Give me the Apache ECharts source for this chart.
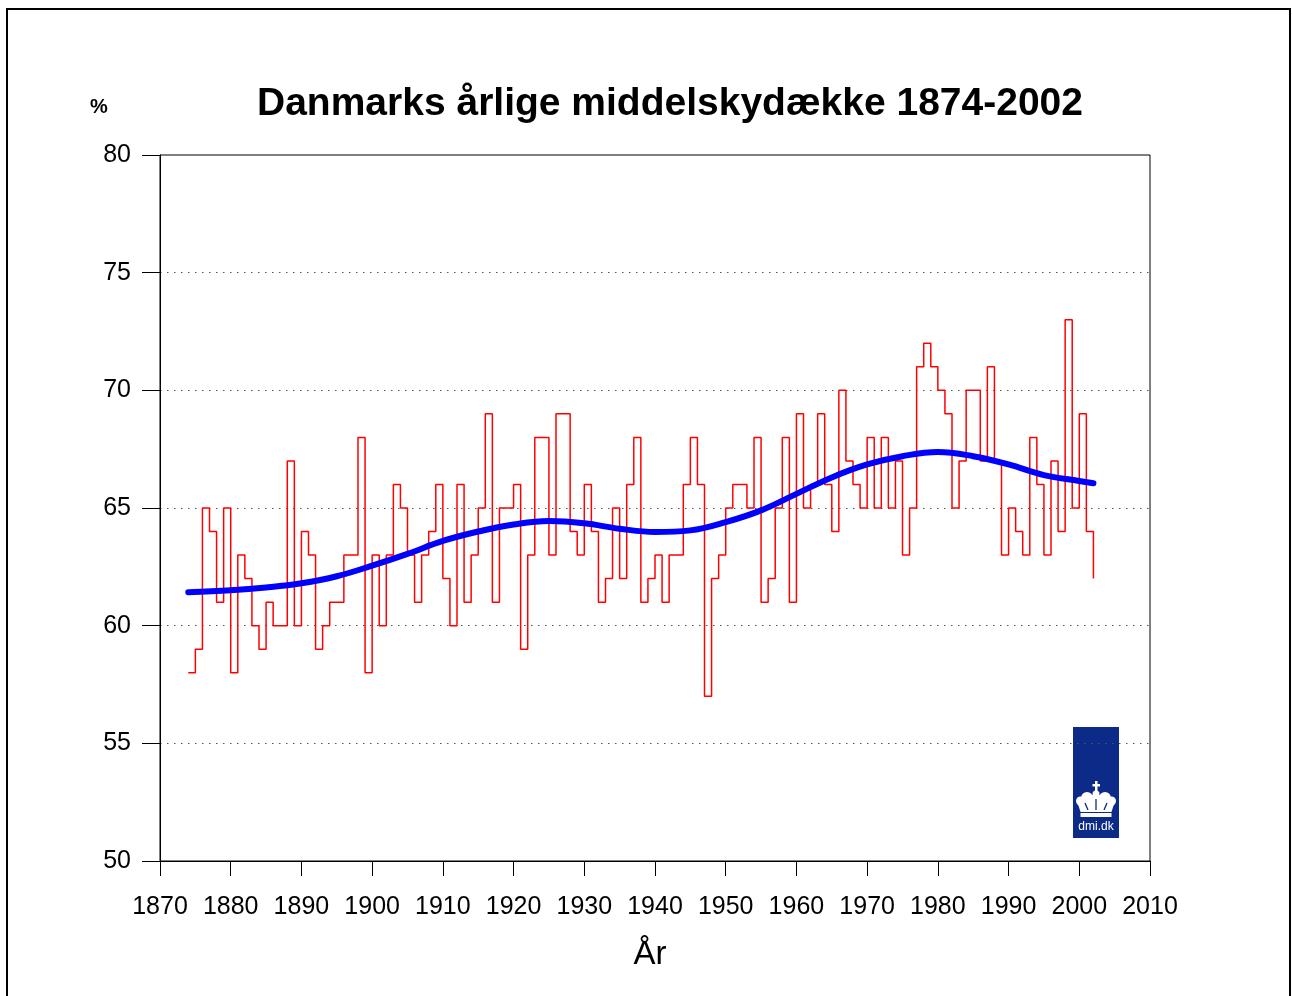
<!DOCTYPE html>
<html>
<head>
<meta charset="utf-8">
<script src="https://cdn.jsdelivr.net/npm/echarts@6/dist/echarts.min.js"></script>
<style>
html,body{margin:0;padding:0;background:#fff;}
#chart{width:1292px;height:996px;}
</style>
</head>
<body>
<div id="chart"></div>
<script>
// ---- data ----
var startYear = 1874;
var cloudCover = [
  58, 59, 65, 64, 61, 65, 58, 63, 62, 60,   // 1874-1883
  59, 61, 60, 60, 67, 60, 64, 63, 59, 60,   // 1884-1893
  61, 61, 63, 63, 68, 58, 63, 60, 63, 66,   // 1894-1903
  65, 63, 61, 63, 64, 66, 62, 60, 66, 61,   // 1904-1913
  63, 65, 69, 61, 65, 65, 66, 59, 63, 68,   // 1914-1923
  68, 63, 69, 69, 64, 63, 66, 64, 61, 62,   // 1924-1933
  65, 62, 66, 68, 61, 62, 63, 61, 63, 63,   // 1934-1943
  66, 68, 66, 57, 62, 63, 65, 66, 66, 65,   // 1944-1953
  68, 61, 62, 65, 68, 61, 69, 65, 66, 69,   // 1954-1963
  66, 64, 70, 67, 66, 65, 68, 65, 68, 65,   // 1964-1973
  67, 63, 65, 71, 72, 71, 70, 69, 65, 67,   // 1974-1983
  70, 70, 67, 71, 67, 63, 65, 64, 63, 68,   // 1984-1993
  66, 63, 67, 64, 73, 65, 69, 64, 62        // 1994-2002
];
var trendYears  = [1874, 1880, 1885, 1890, 1895, 1900, 1905, 1910, 1915, 1920, 1925, 1930, 1935, 1940, 1945, 1950, 1955, 1960, 1965, 1970, 1975, 1980, 1985, 1990, 1995, 2000, 2002];
var trendValues = [61.42, 61.5, 61.62, 61.8, 62.1, 62.55, 63.05, 63.6, 64.0, 64.3, 64.45, 64.35, 64.12, 63.98, 64.05, 64.4, 64.9, 65.6, 66.3, 66.85, 67.2, 67.38, 67.2, 66.85, 66.4, 66.15, 66.05];
var titleText = 'Danmarks årlige middelskydække 1874-2002';
var yUnit = '%';
var xName = 'År';

var stepData = cloudCover.map(function (v, i) { return [startYear + i, v]; });
var trendData = trendYears.map(function (y, i) { return [y, trendValues[i]]; });

var FONT = '"Liberation Sans", Arial, sans-serif';
var chart = echarts.init(document.getElementById('chart'), null, {renderer: 'canvas'});
var LOGO = '#0c2a87';

var option = {
  backgroundColor: '#fff',
  animation: false,
  title: {
    text: titleText,
    left: 665, top: 80, textAlign: 'center',
    textStyle: {fontFamily: FONT, fontSize: 39, fontWeight: 'bold', color: '#000'}
  },
  grid: {left: 160, right: 142, top: 155, bottom: 135, show: true, borderColor: '#000', borderWidth: 1, backgroundColor: 'transparent'},
  xAxis: {
    type: 'value', min: 1870, max: 2010, interval: 10,
    axisLine: {show: true, lineStyle: {color: '#000', width: 1}},
    axisTick: {show: true, length: 15, lineStyle: {color: '#000'}},
    axisLabel: {fontFamily: FONT, fontSize: 25, color: '#000', margin: 34, formatter: function (v) { return String(v); }},
    splitLine: {show: false}
  },
  yAxis: {
    type: 'value', min: 50, max: 80, interval: 5,
    axisLine: {show: true, lineStyle: {color: '#000', width: 1}},
    axisTick: {show: true, length: 18, lineStyle: {color: '#000'}},
    axisLabel: {fontFamily: FONT, fontSize: 25, color: '#000', margin: 29, padding: [6, 0, 0, 0]},
    splitLine: {show: true, showMinLine: false, showMaxLine: false, lineStyle: {color: '#555', width: 1, type: [1.5, 5.5]}}
  },
  series: [
    {
      type: 'line', data: stepData, step: 'end', symbol: 'none',
      lineStyle: {color: '#ff0000', width: 1.5}, z: 3
    },
    {
      type: 'line', data: trendData, smooth: 0.4, symbol: 'none',
      lineStyle: {color: '#0000ff', width: 6, cap: 'round'}, z: 4
    }
  ],
  graphic: [
    {type: 'polyline', shape: {points: [[7, 1000], [7, 9], [1290, 9], [1290, 1000]]}, style: {stroke: '#000', lineWidth: 2, fill: null}, z: 10},
    {type: 'text', x: 90, y: 97, style: {text: yUnit, fontFamily: FONT, fontSize: 20, fontWeight: 'bold', fill: '#000'}},
    {type: 'text', x: 650, y: 955, style: {text: xName, fontFamily: FONT, fontSize: 33, fill: '#000', textAlign: 'center', textVerticalAlign: 'middle'}},
    {
      type: 'group', x: 1073, y: 727, z: 20,
      children: [
        {type: 'rect', shape: {x: 0, y: 0, width: 46, height: 111}, style: {fill: LOGO}},
        {type: 'rect', shape: {x: 22, y: 54, width: 2.5, height: 10}, style: {fill: '#fff'}},
        {type: 'rect', shape: {x: 19.5, y: 57, width: 7.5, height: 2.5}, style: {fill: '#fff'}},
        {type: 'circle', shape: {cx: 23, cy: 67, r: 3.5}, style: {fill: '#fff'}},
        {type: 'circle', shape: {cx: 14, cy: 71, r: 6}, style: {fill: '#fff'}},
        {type: 'circle', shape: {cx: 32, cy: 71, r: 6}, style: {fill: '#fff'}},
        {type: 'circle', shape: {cx: 7.5, cy: 74, r: 4.5}, style: {fill: '#fff'}},
        {type: 'circle', shape: {cx: 38.5, cy: 74, r: 4.5}, style: {fill: '#fff'}},
        {type: 'polygon', shape: {points: [[4, 74], [42, 74], [38.5, 85], [7.5, 85]]}, style: {fill: '#fff'}},
        {type: 'polygon', shape: {points: [[19, 68], [27, 68], [27, 82], [19, 82]]}, style: {fill: '#fff'}},
        {type: 'line', shape: {x1: 12, y1: 76, x2: 15, y2: 83}, style: {stroke: LOGO, lineWidth: 1.3}},
        {type: 'line', shape: {x1: 23, y1: 72, x2: 23, y2: 83}, style: {stroke: LOGO, lineWidth: 1.3}},
        {type: 'line', shape: {x1: 34, y1: 76, x2: 31, y2: 83}, style: {stroke: LOGO, lineWidth: 1.3}},
        {type: 'rect', shape: {x: 7.5, y: 86, width: 31, height: 4}, style: {fill: '#fff'}},
        {type: 'text', x: 23, y: 100, style: {text: 'dmi.dk', fontFamily: FONT, fontSize: 12, fill: '#fff', textAlign: 'center', textVerticalAlign: 'middle'}}
      ]
    }
  ]
};
chart.setOption(option);
</script>
</body>
</html>
